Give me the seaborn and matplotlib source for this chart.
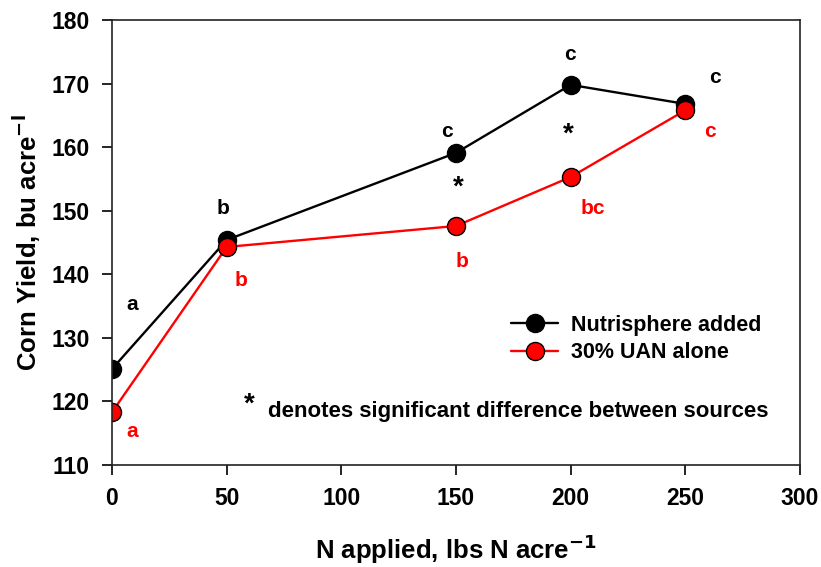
import pandas as pd
import seaborn as sns
import matplotlib
matplotlib.use("Agg")
from matplotlib import pyplot as plt

# yields
n_rate = [0, 50, 150, 200, 250]
nutrisphere = [125.1, 145.4, 159.1, 169.8, 166.8]
uan_alone = [118.3, 144.3, 147.6, 155.3, 165.8]

# mean separation letters (x, y, text)
black_letters = [(8.7, 135.2, "a"), (48.5, 150.4, "b"), (146, 162.5, "c"),
                 (199.7, 174.6, "c"), (263, 171.0, "c")]
red_letters = [(8.7, 115.2, "a"), (56.3, 139.0, "b"), (152.5, 142.0, "b"),
               (209.8, 150.4, "bc"), (260.8, 162.5, "c")]
# asterisks mark a significant difference between the two sources
stars = [(151, 152.5), (198.9, 160.8)]

df = pd.concat([
    pd.DataFrame({"N": n_rate, "Yield": nutrisphere, "Source": "Nutrisphere added"}),
    pd.DataFrame({"N": n_rate, "Yield": uan_alone, "Source": "30% UAN alone"}),
])

sns.set_style("ticks")
plt.rcParams["font.family"] = ["Liberation Sans", "DejaVu Sans"]
plt.rcParams["font.weight"] = "bold"
for key in ["text.color", "axes.labelcolor", "xtick.color", "ytick.color"]:
    plt.rcParams[key] = "black"

fig = plt.figure(figsize=(8.21, 5.67), dpi=100)
ax = fig.add_axes([0.1364, 0.1799, 0.8380, 0.7848])

sns.lineplot(data=df, x="N", y="Yield", hue="Source",
             hue_order=["Nutrisphere added", "30% UAN alone"],
             palette={"Nutrisphere added": "black", "30% UAN alone": "#ff0000"},
             marker="o", markersize=13, markeredgecolor="black", markeredgewidth=1,
             linewidth=1.7, errorbar=None, legend=False, ax=ax)

for x, y, t in black_letters:
    ax.text(x, y, t, color="black", fontsize=15, fontweight="bold", ha="center", va="center")
for x, y, t in red_letters:
    ax.text(x, y, t, color="#ff0000", fontsize=15, fontweight="bold", ha="center", va="center")
for x, y in stars:
    ax.text(x, y, "*", color="black", fontsize=20, fontweight="bold", ha="center")

ax.text(60, 118.4, "*", fontsize=20, fontweight="bold", ha="center")
ax.text(68, 117.6, "denotes significant difference between sources",
        fontsize=16, fontweight="bold")

ax.legend(handles=ax.lines[:2], labels=["Nutrisphere added", "30% UAN alone"],
          loc="center left", bbox_to_anchor=(0.552, 0.283), frameon=False,
          prop={"weight": "bold", "size": 15.5},
          handlelength=2.2, handletextpad=0.6, labelspacing=0.3)

ax.set_xlim(0, 300)
ax.set_ylim(110, 180)
ax.set_xticks([0, 50, 100, 150, 200, 250, 300])
ax.set_yticks(range(110, 181, 10))
ax.tick_params(direction="out", length=7, width=1.2, labelsize=16.5, pad=9,
               top=False, right=False, colors="black")
for lbl in ax.get_xticklabels() + ax.get_yticklabels():
    lbl.set_fontweight("bold")
for sp in ax.spines.values():
    sp.set_linewidth(1.2)
    sp.set_color("#222222")

ax.set_xlabel("N applied, lbs N acre$^{\\mathbf{-1}}$", fontsize=18.5, fontweight="bold", labelpad=16)
ax.set_ylabel("Corn Yield, bu acre$^{\\mathbf{-l}}$", fontsize=18.5, fontweight="bold", labelpad=6)

fig.savefig("out.png", dpi=100)
